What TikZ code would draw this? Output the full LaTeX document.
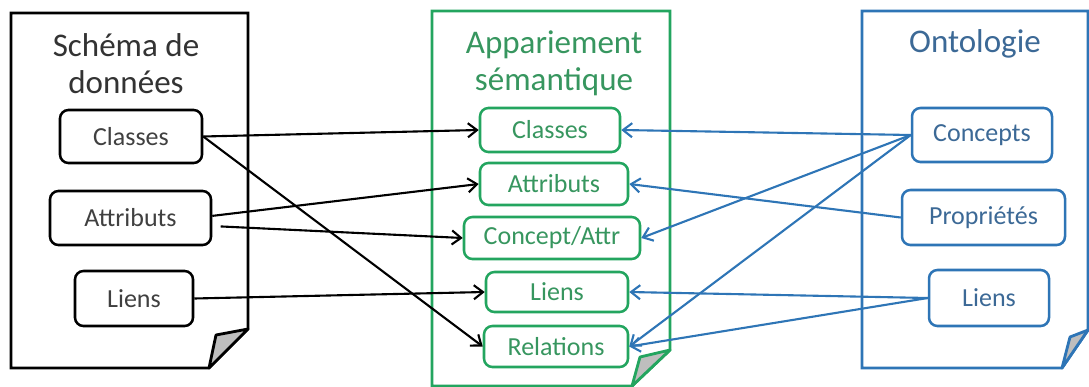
\documentclass[tikz,border=0pt]{standalone}
\usepackage{fontspec}
\setmainfont{Carlito}
\usepackage{xcolor}
\usetikzlibrary{arrows.meta}
\definecolor{grn}{RGB}{35,165,95}
\definecolor{grntxt}{RGB}{55,150,95}
\definecolor{blu}{RGB}{46,117,182}
\definecolor{blutxt}{RGB}{60,105,150}
\definecolor{gry}{RGB}{64,64,64}
\definecolor{fold}{RGB}{190,190,190}

\begin{document}
\begin{tikzpicture}[x=0.025cm, y=-0.025cm,
  title/.style={align=center, font=\fontsize{23.5}{26.3}\selectfont},
  item/.style={draw, rounded corners=6pt, line width=1.8pt, fill=white,
    inner sep=0pt, font=\fontsize{18.5}{20}\selectfont},
  box size/.style 2 args={minimum width=#1*0.025cm, minimum height=#2*0.025cm},
  link/.style={line width=1.5pt, -{Straight Barb[length=6.5pt,width=10pt]}}]
\useasboundingbox (0,0) rectangle (1089,387);
% documents
\draw[line width=2pt, fill=white] (11,13) -- (248,13) -- (248,329) -- (209,368) -- (11,368) -- cycle;
\draw[line width=2pt, fill=fold, line join=round] (248,329) -- (216,335) -- (209,368) -- cycle;
\draw[grn, line width=2pt, fill=white] (432,11) -- (670,11) -- (670,350) -- (632,386) -- (432,386) -- cycle;
\draw[grn, line width=2pt, fill=fold, line join=round] (670,350) -- (640,357) -- (632,386) -- cycle;
\draw[blu, line width=2pt, fill=white] (862,11) -- (1088,11) -- (1088,330) -- (1062,368) -- (862,368) -- cycle;
\draw[blu, line width=2pt, fill=fold, line join=round] (1088,330) -- (1070,337) -- (1062,368) -- cycle;
% titles
\node[title, text=black!80] (tS) at (126,64) {Schéma de\\données};
\node[title, text=grntxt] (tA) at (554,63) {Appariement\\sémantique};
\node[title, text=blutxt] (tO) at (975,44) {Ontologie};
% schema
\node[item, text=gry, box size={142}{53}] (sClasses) at (131,136.5) {Classes};
\node[item, text=gry, box size={161}{54}] (sAttributs) at (130.5,218) {Attributs};
\node[item, text=gry, box size={118}{55}] (sLiens) at (134,298.5) {Liens};
% appariement
\node[item, draw=grn, text=grntxt, box size={140}{44}] (aClasses) at (550,130) {Classes};
\node[item, draw=grn, text=grntxt, box size={148}{42}] (aAttributs) at (554,184) {Attributs};
\node[item, draw=grn, text=grntxt, box size={176}{42}] (aConcept) at (552,238) {Concept/Attr};
\node[item, draw=grn, text=grntxt, box size={142}{40}] (aLiens) at (557,292) {Liens};
\node[item, draw=grn, text=grntxt, box size={144}{41}] (aRelations) at (556,346.5) {Relations};
% ontologie
\node[item, draw=blu, text=blutxt, box size={140}{54}] (oConcepts) at (982,135) {Concepts};
\node[item, draw=blu, text=blutxt, box size={163}{55}] (oProprietes) at (983.5,217.5) {Propriétés};
\node[item, draw=blu, text=blutxt, box size={120}{56}] (oLiens) at (989,298) {Liens};
% liens noirs
\draw[link] (sClasses.east) -- (aClasses.west);
\draw[link] (sClasses.east) -- (aRelations.west);
\draw[link] ([yshift=1.5pt]sAttributs.east) -- (aAttributs.west);
\draw[link] ([xshift=6pt,yshift=-6pt]sAttributs.east) -- (aConcept.west);
\draw[link] (sLiens.east) -- (aLiens.west);
% liens bleus
\draw[link, blu] (oConcepts.west) -- (aClasses.east);
\draw[link, blu] (oConcepts.west) -- (aConcept.east);
\draw[link, blu] (oConcepts.west) -- (aRelations.east);
\draw[link, blu] (oProprietes.west) -- (aAttributs.east);
\draw[link, blu] (oLiens.west) -- (aLiens.east);
\draw[link, blu] (oLiens.west) -- (aRelations.east);
\end{tikzpicture}
\end{document}
